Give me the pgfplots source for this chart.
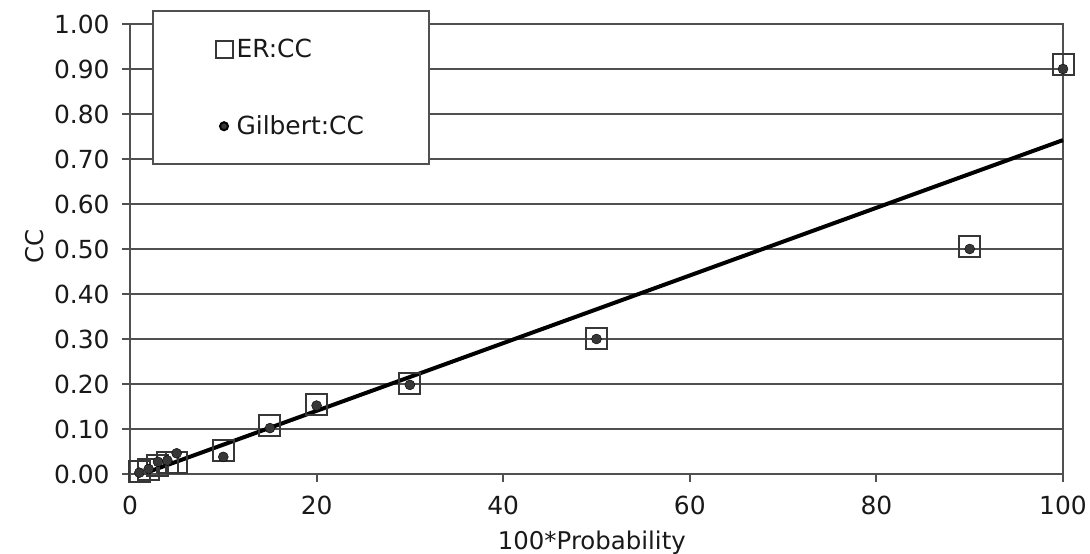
\documentclass[border=0pt]{standalone}
\usepackage{pgfplots}
\pgfplotsset{compat=1.18}
\usepackage{fontspec}
\setmainfont{DejaVu Sans}
\definecolor{axgray}{RGB}{80,80,80}
\definecolor{txt}{RGB}{25,25,25}
\definecolor{mk}{RGB}{55,55,55}
\pgfplotsset{
  erleg/.style={legend image code/.code={\path (-8bp,0) (8bp,0); \draw[mark=square, mark size=8.5bp, draw=mk, line width=2bp] plot coordinates {(0bp,0bp)};}},
  gileg/.style={legend image code/.code={\path (-8bp,0) (8bp,0); \draw[mark=*, mark size=4bp, draw=none, fill=mk] plot coordinates {(0bp,0bp)};}},
}
\begin{document}
\begin{tikzpicture}
\begin{axis}[
  scale only axis, width=933bp, height=450bp,
  xmin=0, xmax=100, ymin=0, ymax=1,
  clip=false,
  xtick={0,20,40,60,80,100},
  ytick={0,0.1,0.2,0.3,0.4,0.5,0.6,0.7,0.8,0.9,1.0},
  yticklabel style={xshift=-9bp, /pgf/number format/.cd, fixed, fixed zerofill, precision=2},
  /pgf/number format/assume math mode=true,
  ymajorgrids,
  grid style={axgray, line width=2bp},
  axis line style={axgray, line width=2bp},
  tick style={axgray, line width=2bp},
  tick align=outside, major tick length=8bp,
  xtick pos=bottom, ytick pos=left,
  ticklabel style={font=\fontsize{25}{29}\selectfont, text=txt},
  xticklabel style={yshift=-10bp},
  label style={font=\fontsize{24.5}{28}\selectfont, text=txt},
  xlabel={100*Probability}, ylabel={CC},
  xlabel style={at={(axis description cs:0.495,-0.153)}, anchor=center},
  ylabel style={at={(axis description cs:-0.102,0.505)}, anchor=center},
  legend style={at={(axis description cs:0.0236,1.031)}, anchor=north west,
    draw=axgray, line width=2bp, fill=white,
    font=\fontsize{25}{30}\selectfont, text=txt,
    inner xsep=62bp, inner ysep=28bp, row sep=57bp,
    nodes={inner xsep=3.5bp, inner ysep=0bp}},
  legend cell align=left,
]
\addplot[only marks, mark=square, mark size=10.5bp, mark options={draw=mk, line width=2bp, fill=none}, erleg]
  coordinates {(1,0.005) (2,0.01) (3,0.02) (4,0.025) (5,0.025) (10,0.052) (15,0.107) (20,0.155) (30,0.202) (50,0.302) (90,0.505) (100,0.91)};
\addlegendentry{ER:CC}
\addplot[only marks, mark=*, mark size=5bp, mark options={draw=none, fill=mk}, gileg]
  coordinates {(1,0.003) (2,0.011) (3,0.027) (4,0.03) (5,0.046) (10,0.038) (15,0.102) (20,0.152) (30,0.198) (50,0.30) (90,0.50) (100,0.90)};
\addlegendentry{Gilbert:CC}
\addplot[black, line width=4bp, forget plot] coordinates {(2,0.005) (100,0.742)};
\end{axis}
\pgfresetboundingbox
\path[use as bounding box] (-130bp,-80bp) rectangle (960bp,474bp);
\end{tikzpicture}
\end{document}
